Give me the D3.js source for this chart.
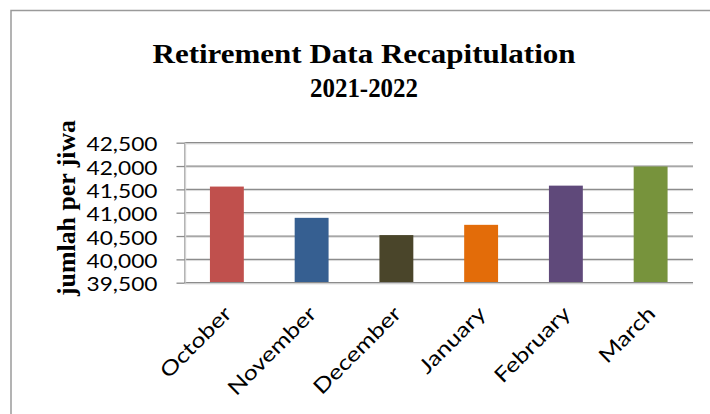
<!DOCTYPE html>
<html>
<head>
<meta charset="utf-8">
<script src="https://cdn.jsdelivr.net/npm/d3@7"></script>
<style>
  body { margin: 0; background: #fff; }
  svg { display: block; }
</style>
</head>
<body>
<script>
// Data
const months = ['October', 'November', 'December', 'January', 'February', 'March']
const totals = [41560, 40890, 40520, 40740, 41580, 41990]
const yTicks = [39500, 40000, 40500, 41000, 41500, 42000, 42500]
const titleLines = ['Retirement Data Recapitulation', '2021-2022']
const yTitle = 'jumlah per jiwa'

// Colors
const barColors = ['#C0504D', '#365F91', '#4A452A', '#E36C09', '#5F497A', '#77933C']
const gridColor = '#8c8c8c'
const shadowColor = '#d9d9d9'

// Chart settings
const width = 710
const height = 414
const plotLeft = 184.5
const plotRight = 693
const plotTop = 142.7
const plotBottom = 282.7
const sansFont = 'Lato, "Open Sans", sans-serif'
const serifFont = '"Liberation Serif", "DejaVu Serif", serif'
const sansSize = 19.5
const labelSize = 20.5
const labelStretch = 1.22

const svg = d3.select('body')
  .append('svg')
  .attr('width', width)
  .attr('height', height)

// Chart frame (runs off the right and bottom edge)
svg.append('rect')
  .attr('x', 11)
  .attr('y', 10.5)
  .attr('width', 720)
  .attr('height', 430)
  .attr('fill', 'none')
  .attr('stroke', '#9a9a9a')
  .attr('stroke-width', 1.5)

// Scales
const xScale = d3.scaleBand()
  .domain(months)
  .range([plotLeft, plotRight])
  .paddingInner(0.6)
  .paddingOuter(0.3)
const yScale = d3.scaleLinear()
  .domain([yTicks[0], yTicks[yTicks.length - 1]])
  .range([plotBottom, plotTop])

// Gridlines with their light shadow
const grid = svg.append('g')
grid.selectAll('line.shadow')
  .data(yTicks)
  .enter()
  .append('line')
  .attr('class', 'shadow')
  .attr('x1', plotLeft)
  .attr('x2', plotRight)
  .attr('y1', d => yScale(d) + 1.2)
  .attr('y2', d => yScale(d) + 1.2)
  .attr('stroke', shadowColor)
  .attr('stroke-width', 1)
grid.selectAll('line.major')
  .data(yTicks.slice(1))
  .enter()
  .append('line')
  .attr('class', 'major')
  .attr('x1', plotLeft)
  .attr('x2', plotRight)
  .attr('y1', d => yScale(d))
  .attr('y2', d => yScale(d))
  .attr('stroke', gridColor)
  .attr('stroke-width', 1.3)

// Bars
svg.append('g')
  .selectAll('rect')
  .data(months)
  .enter()
  .append('rect')
  .attr('x', d => xScale(d))
  .attr('width', xScale.bandwidth())
  .attr('y', (d, i) => yScale(totals[i]))
  .attr('height', (d, i) => plotBottom - yScale(totals[i]))
  .attr('fill', (d, i) => barColors[i])

// Category axis line
svg.append('line')
  .attr('x1', plotLeft)
  .attr('x2', plotRight)
  .attr('y1', plotBottom)
  .attr('y2', plotBottom)
  .attr('stroke', gridColor)
  .attr('stroke-width', 1.3)

// Y axis
const yAxis = d3.axisLeft(yScale)
  .tickValues(yTicks)
  .tickSize(8)
  .tickSizeOuter(0)
  .tickPadding(19)
  .tickFormat(d3.format(','))

const yAxisG = svg.append('g')
  .attr('transform', `translate(${plotLeft}, 0)`)
  .call(yAxis)

yAxisG.select('.domain')
  .attr('stroke', gridColor)
  .attr('stroke-width', 1.3)
yAxisG.selectAll('.tick line')
  .attr('stroke', gridColor)
  .attr('stroke-width', 1.3)
yAxisG.selectAll('.tick text')
  .attr('dy', '0.41em')
  .attr('fill', '#000')
  .attr('textLength', 71)
  .attr('lengthAdjust', 'spacingAndGlyphs')
  .style('font-family', sansFont)
  .style('font-size', `${sansSize}px`)

svg.append('line')
  .attr('x1', plotLeft + 1.2)
  .attr('x2', plotLeft + 1.2)
  .attr('y1', plotTop)
  .attr('y2', plotBottom)
  .attr('stroke', shadowColor)

// Month labels, rotated
svg.append('g')
  .selectAll('text')
  .data(months)
  .enter()
  .append('text')
  .attr('transform', d => `translate(${xScale(d) + xScale.bandwidth() / 2 + 6}, 315) rotate(-45)`)
  .attr('text-anchor', 'end')
  .style('font-family', sansFont)
  .style('font-size', `${labelSize}px`)
  .text(d => d)
  .each(function () {
    const len = this.getComputedTextLength()
    d3.select(this)
      .attr('textLength', len * labelStretch)
      .attr('lengthAdjust', 'spacingAndGlyphs')
  })

// Title
const titleY = [62.7, 97.3]
const titleWidth = [423, 108]
svg.append('g')
  .selectAll('text')
  .data(titleLines)
  .enter()
  .append('text')
  .attr('x', 364)
  .attr('y', (d, i) => titleY[i])
  .attr('text-anchor', 'middle')
  .attr('textLength', (d, i) => titleWidth[i])
  .attr('lengthAdjust', 'spacingAndGlyphs')
  .style('font-family', serifFont)
  .style('font-weight', 'bold')
  .style('font-size', '28px')
  .text(d => d)

// Y axis title
svg.append('text')
  .attr('transform', 'translate(75, 208) rotate(-90)')
  .attr('text-anchor', 'middle')
  .attr('textLength', 176)
  .attr('lengthAdjust', 'spacingAndGlyphs')
  .style('font-family', serifFont)
  .style('font-weight', 'bold')
  .style('font-size', '26px')
  .text(yTitle)
</script>
</body>
</html>
